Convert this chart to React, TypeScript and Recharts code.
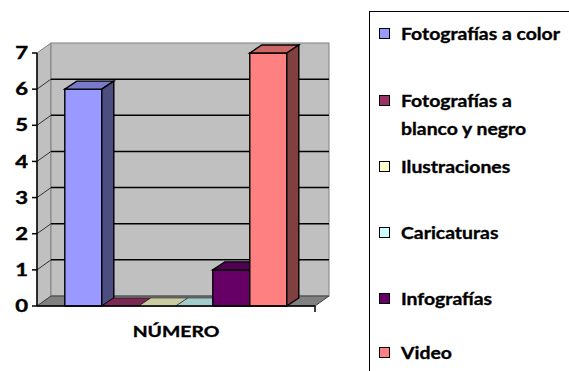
import React from "react";
import {
  Bar,
  BarChart,
  Legend,
  ReferenceArea,
  ReferenceLine,
  XAxis,
  YAxis,
} from "recharts";

const CATEGORIES = ["NÚMERO"];
const SERIES_NAMES = [
  "Fotografías a color",
  "Fotografías a blanco y negro",
  "Ilustraciones",
  "Caricaturas",
  "Infografías",
  "Video",
];
const SERIES_VALUES = [6, 0, 0, 0, 1, 7];
const SERIES_COLORS = ["#9999FF", "#993366", "#FFFFCC", "#CCFFFF", "#660066", "#FF8080"];
const Y_TICKS = [0, 1, 2, 3, 4, 5, 6, 7];

// legend row centres (px from the legend box top), Excel spaces them unevenly
const LEGEND_ROW_TOPS = [22, 89, 155, 221, 287, 341];

const FONT = "Lato, 'Open Sans', sans-serif";
const WALL_DX = 14;
const WALL_DY = 10;
const BAR_DX = 12;
const BAR_DY = 8;

const data = CATEGORIES.map((name) => {
  const row: Record<string, string | number> = { name };
  SERIES_VALUES.forEach((v, i) => {
    row[`s${i}`] = v;
  });
  return row;
});

function shade(hex: string, f: number) {
  const n = parseInt(hex.slice(1), 16);
  const ch = (s: number) => Math.round(((n >> s) & 255) * f);
  return `rgb(${ch(16)},${ch(8)},${ch(0)})`;
}

// front face + lid + right side, like Excel's 3-D column
function Bar3D(props: any) {
  const { x, y, width, height, fill } = props;
  const right = x + width;
  const bottom = y + height;
  return (
    <g>
      {height > 0 && (
        <rect x={x} y={y} width={width} height={height} fill={fill} stroke="#000" strokeWidth={1.4} />
      )}
      <polygon
        points={`${x},${y} ${x + BAR_DX},${y - BAR_DY} ${right + BAR_DX},${y - BAR_DY} ${right},${y}`}
        fill={shade(fill, 0.8)}
        stroke="#000"
        strokeWidth={height > 0 ? 1.4 : 0.5}
      />
      {height > 0 && (
        <polygon
          points={`${right},${y} ${right + BAR_DX},${y - BAR_DY} ${right + BAR_DX},${bottom - BAR_DY} ${right},${bottom}`}
          fill={shade(fill, 0.5)}
          stroke="#000"
          strokeWidth={1.4}
        />
      )}
    </g>
  );
}

// side wall, back wall and floor of the plot box
function Walls(props: any) {
  const { x, y, width, height } = props;
  const b = y + height;
  const r = x + width;
  return (
    <g>
      <polygon
        points={`${x},${b} ${x},${y} ${x + WALL_DX},${y - WALL_DY} ${x + WALL_DX},${b - WALL_DY}`}
        fill="#C0C0C0"
        stroke="#808080"
      />
      <rect x={x + WALL_DX} y={y - WALL_DY} width={width} height={height} fill="#C0C0C0" stroke="#808080" />
      <polygon
        points={`${x},${b} ${r},${b} ${r + WALL_DX},${b - WALL_DY} ${x + WALL_DX},${b - WALL_DY}`}
        fill="#808080"
        stroke="#404040"
      />
      <line x1={r} y1={b} x2={r} y2={b + 6} stroke="#000" strokeWidth={1.5} />
    </g>
  );
}

function BackGridLine(props: any) {
  const { x1, y1, x2 } = props;
  return (
    <g>
      <line x1={x1} y1={y1} x2={x1 + WALL_DX} y2={y1 - WALL_DY} stroke="#333" />
      <line x1={x1 + WALL_DX} y1={y1 - WALL_DY} x2={x2 + WALL_DX} y2={y1 - WALL_DY} stroke="#000" strokeWidth={1.5} />
    </g>
  );
}

function YTick(props: any) {
  const { x, y, payload } = props;
  return (
    <text
      transform={`translate(${x},${y}) scale(1.3,1)`}
      dy="0.36em"
      textAnchor="end"
      fontFamily={FONT}
      fontWeight={700}
      fontSize={17}
      fill="#000"
      stroke="#000"
      strokeWidth={0.4}
    >
      {payload.value}
    </text>
  );
}

function XTick(props: any) {
  const { x, y, payload } = props;
  return (
    <text
      transform={`translate(${x},${y}) scale(1.25,1)`}
      dy="0.71em"
      textAnchor="middle"
      fontFamily={FONT}
      fontWeight={700}
      fontSize={15.5}
      fill="#000"
      stroke="#000"
      strokeWidth={0.35}
    >
      {payload.value}
    </text>
  );
}

function LegendBox(props: any) {
  const items = [...(props.payload ?? [])].sort(
    (a: any, b: any) => SERIES_NAMES.indexOf(a.value) - SERIES_NAMES.indexOf(b.value)
  );
  return (
    <div style={{ position: "relative", width: "100%", height: "100%" }}>
      {items.map((item: any, i: number) => (
        <div
          key={item.value}
          style={{ position: "absolute", left: 0, top: LEGEND_ROW_TOPS[i] - 14, display: "flex" }}
        >
          <span
            style={{
              width: 11,
              height: 11,
              marginLeft: 9,
              marginTop: 8,
              boxSizing: "border-box",
              border: "1.5px solid #000",
              background: item.color,
              flex: "none",
            }}
          />
          <span
            style={{
              display: "inline-block",
              width: 150,
              marginLeft: 11,
              fontFamily: FONT,
              fontWeight: 700,
              fontSize: 17,
              lineHeight: "28px",
              color: "#000",
              WebkitTextStroke: "0.35px #000",
              transform: "scaleX(1.14)",
              transformOrigin: "left center",
            }}
          >
            {item.value}
          </span>
        </div>
      ))}
    </div>
  );
}

export default function App() {
  return (
    <div
      style={{
        position: "absolute",
        left: 0,
        top: 0,
        width: 569,
        height: 371,
        overflow: "hidden",
        background: "#fff",
      }}
    >
      <BarChart
        width={569}
        height={371}
        data={data}
        margin={{ top: 53, right: 254, bottom: 35, left: 0 }}
        barCategoryGap="10%"
        barGap={0}
      >
        <ReferenceArea y1={0} y2={7} shape={<Walls />} zIndex={-20} />
        {Y_TICKS.filter((v) => v > 0 && v < 7).map((v) => (
          <ReferenceLine key={v} y={v} shape={<BackGridLine />} zIndex={-10} />
        ))}
        <XAxis
          dataKey="name"
          height={30}
          axisLine={{ stroke: "#000", strokeWidth: 1.5 }}
          tickLine={false}
          tickSize={0}
          tickMargin={20}
          tick={<XTick />}
        />
        <YAxis
          type="number"
          domain={[0, 7]}
          ticks={Y_TICKS}
          interval={0}
          width={37}
          axisLine={{ stroke: "#000", strokeWidth: 1.5 }}
          tickLine={{ stroke: "#000", strokeWidth: 1.5 }}
          tickSize={5}
          tickMargin={4}
          tick={<YTick />}
        />
        {SERIES_NAMES.map((name, i) => (
          <Bar
            key={name}
            dataKey={`s${i}`}
            name={name}
            fill={SERIES_COLORS[i]}
            shape={<Bar3D />}
            isAnimationActive={false}
          />
        ))}
        <Legend
          layout="vertical"
          align="center"
          verticalAlign="middle"
          content={<LegendBox />}
          wrapperStyle={{
            left: 369,
            top: 11,
            width: 230,
            height: 400,
            border: "1.5px solid #000",
            boxSizing: "border-box",
            background: "#fff",
          }}
        />
      </BarChart>
    </div>
  );
}
